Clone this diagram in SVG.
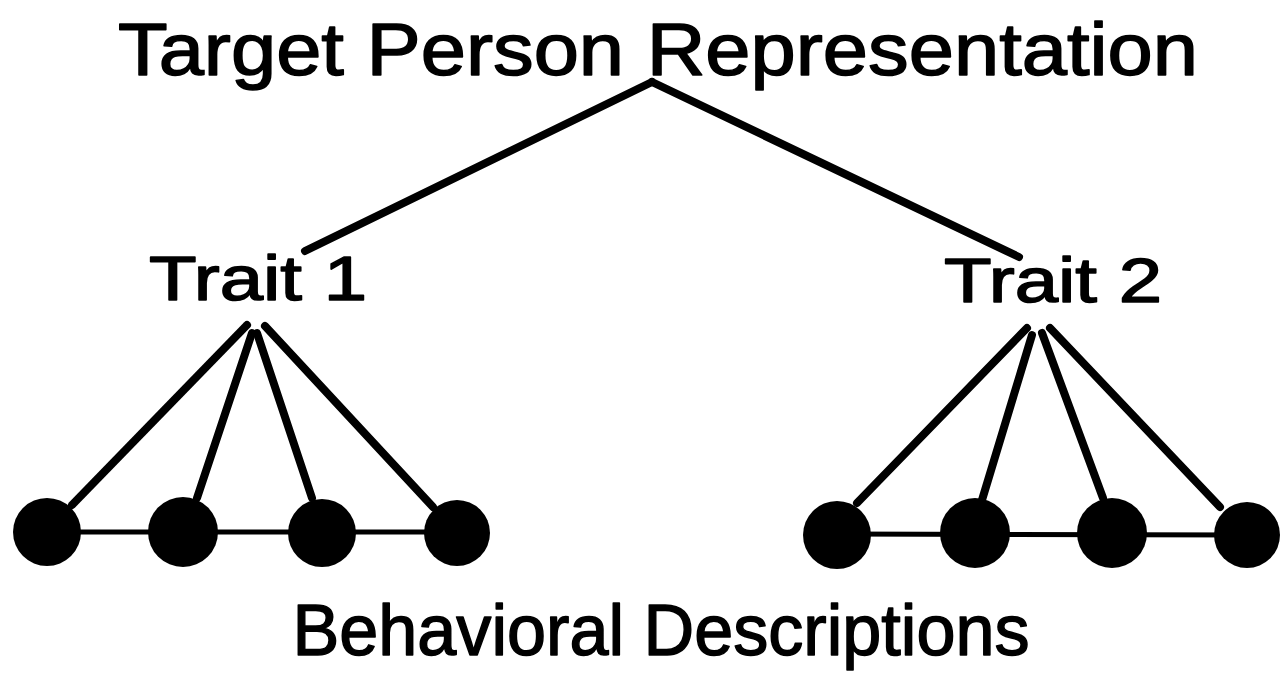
<svg xmlns="http://www.w3.org/2000/svg" width="1280" height="679" viewBox="0 0 1280 679">
<style>
text{font-family:"Liberation Sans",Arial,sans-serif;fill:#000;stroke:#000;stroke-width:1.5;stroke-linejoin:round}
.edge{stroke:#000;stroke-width:8;stroke-linecap:round;fill:none}
.link{stroke:#000;stroke-width:5;fill:none}
.dot{fill:#000}
</style>
<rect width="1280" height="679" fill="#fff"/>
<g id="connectors">
<line class="edge" x1="652" y1="82" x2="305" y2="251"/>
<line class="edge" x1="652" y1="82" x2="1019" y2="257"/>
<line class="edge" x1="247" y1="325" x2="72" y2="505"/>
<line class="edge" x1="252" y1="333" x2="197" y2="498"/>
<line class="edge" x1="257" y1="333" x2="312" y2="498"/>
<line class="edge" x1="265" y1="326" x2="433" y2="507"/>
<line class="edge" x1="1027" y1="328" x2="857" y2="503"/>
<line class="edge" x1="1032" y1="335" x2="982" y2="500"/>
<line class="edge" x1="1042" y1="333" x2="1103" y2="498"/>
<line class="edge" x1="1050" y1="328" x2="1220" y2="507"/>
<line class="link" x1="47" y1="532" x2="457" y2="532"/>
<line class="link" x1="837" y1="534" x2="1247" y2="535"/>
</g>
<g id="title"><text x="658" y="75" font-size="74" text-anchor="middle" textLength="1080" lengthAdjust="spacingAndGlyphs">Target Person Representation</text></g>
<g id="trait1"><text x="258" y="300" font-size="63" text-anchor="middle" textLength="218" lengthAdjust="spacingAndGlyphs">Trait 1</text></g>
<g id="trait2"><text x="1053" y="302" font-size="63" text-anchor="middle" textLength="218" lengthAdjust="spacingAndGlyphs">Trait 2</text></g>
<g id="b1"><circle class="dot" cx="47" cy="532" r="34"/></g>
<g id="b2"><circle class="dot" cx="183" cy="532" r="35"/></g>
<g id="b3"><circle class="dot" cx="322" cy="533" r="34"/></g>
<g id="b4"><circle class="dot" cx="457" cy="533" r="33"/></g>
<g id="b5"><circle class="dot" cx="837" cy="535" r="34"/></g>
<g id="b6"><circle class="dot" cx="975" cy="533" r="35"/></g>
<g id="b7"><circle class="dot" cx="1112" cy="533" r="35"/></g>
<g id="b8"><circle class="dot" cx="1247" cy="535" r="33"/></g>
<g id="footer"><text x="661" y="655" font-size="73" text-anchor="middle" textLength="737" lengthAdjust="spacingAndGlyphs">Behavioral Descriptions</text></g>
</svg>
